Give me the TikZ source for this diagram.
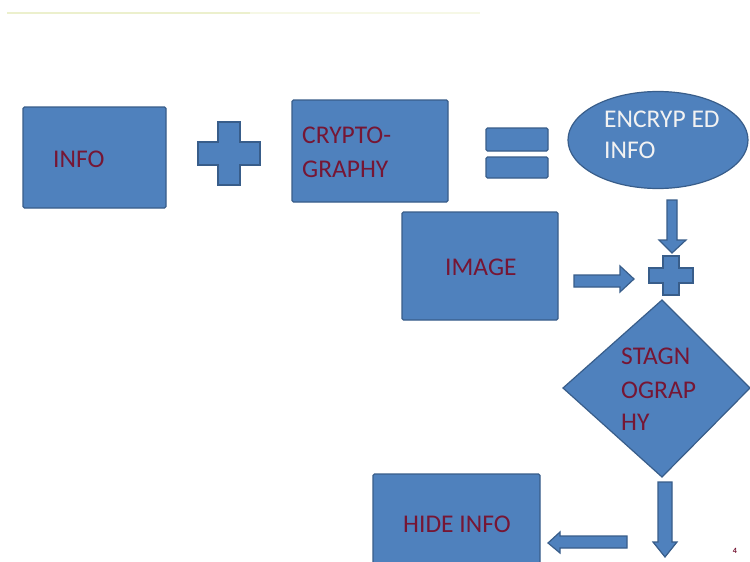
\documentclass[tikz,border=0pt]{standalone}
\usepackage{fontspec}
\setmainfont{Carlito}
\usetikzlibrary{shapes.geometric}
\definecolor{boxfill}{RGB}{79,129,189}
\definecolor{boxline}{RGB}{56,93,138}
\definecolor{txtred}{RGB}{118,22,52}
\definecolor{txtlight}{RGB}{242,242,242}
\definecolor{faint}{RGB}{236,240,205}
\tikzset{
  blk/.style={fill=boxfill,draw=boxline,line width=1.2pt,rounded corners=1.5pt},
  lbl/.style={text=txtred,font=\fontsize{25.5}{30}\selectfont,inner sep=0pt,anchor=base west},
  lbllight/.style={text=txtlight,font=\fontsize{25.5}{30}\selectfont,inner sep=0pt,anchor=base west},
}
\begin{document}
\begin{tikzpicture}[x=1pt,y=-1pt]
\useasboundingbox (0,0) rectangle (750,562);
\fill[white] (0,0) rectangle (750,562);
% faint top rule
\draw[faint,line width=2pt] (7,13) -- (250,13);
\draw[faint!50,line width=2pt] (250,13) -- (480,13);

% boxes
\draw[blk] (23,107) rectangle (166,208);
\node[lbl] (info) at (53,167) {INFO};

\draw[blk] (292,100) rectangle (448,202);
\node[lbl] (crypto1) at (302,143) {CRYPTO-};
\node[lbl] (crypto2) at (302,177) {GRAPHY};

% plus 1
\draw[blk,rounded corners=0pt] (218,122) -- (240,122) -- (240,142) -- (260,142) -- (260,165) -- (240,165) -- (240,185) -- (218,185) -- (218,165) -- (198,165) -- (198,142) -- (218,142) -- cycle;

% equals
\draw[blk] (486,128) rectangle (548,151);
\draw[blk] (486,157) rectangle (548,178);

% ellipse
\node[ellipse,fill=boxfill,draw=boxline,line width=1.2pt,minimum width=180pt,minimum height=97pt,inner sep=0pt] (enc) at (658,140) {};
\node[lbllight] (enc1) at (604,127) {ENCRYP ED};
\node[lbllight] (enc2) at (604,158) {INFO};

% down arrow 1
\draw[blk,rounded corners=0pt] (667,200) -- (677,200) -- (677,240) -- (686,240) -- (672,253) -- (659,240) -- (667,240) -- cycle;

% image
\draw[blk] (402,212) rectangle (558,320);
\node[lbl] (image) at (445,275) {IMAGE};

% right arrow
\draw[blk,rounded corners=0pt] (574,275) -- (620,275) -- (620,266) -- (634,279) -- (620,292) -- (620,287) -- (574,287) -- cycle;

% plus 2
\draw[blk,rounded corners=0pt] (663,256) -- (679,256) -- (679,268) -- (693,268) -- (693,283) -- (679,283) -- (679,295) -- (663,295) -- (663,283) -- (649,283) -- (649,268) -- (663,268) -- cycle;

% diamond
\draw[blk,rounded corners=0pt] (662,300) -- (750,388) -- (662,477) -- (563,388) -- cycle;
\node[lbl] (steg1) at (621,364) {STAGN};
\node[lbl] (steg2) at (621,398) {OGRAP};
\node[lbl] (steg3) at (621,430) {HY};

% down arrow 2
\draw[blk,rounded corners=0pt] (658,482) -- (672,482) -- (672,542) -- (677,542) -- (665,557) -- (653,542) -- (658,542) -- cycle;

% left arrow
\draw[blk,rounded corners=0pt] (627,536) -- (560,536) -- (560,532) -- (548,543) -- (560,553) -- (560,548) -- (627,548) -- cycle;

% hide info
\draw[blk] (373,474) rectangle (540,575);
\node[lbl] (hide) at (403,532) {HIDE INFO};

% page number
\node[text=txtred,font=\bfseries\fontsize{8}{9}\selectfont,inner sep=0pt] (pg) at (735,551) {4};
\end{tikzpicture}
\end{document}
